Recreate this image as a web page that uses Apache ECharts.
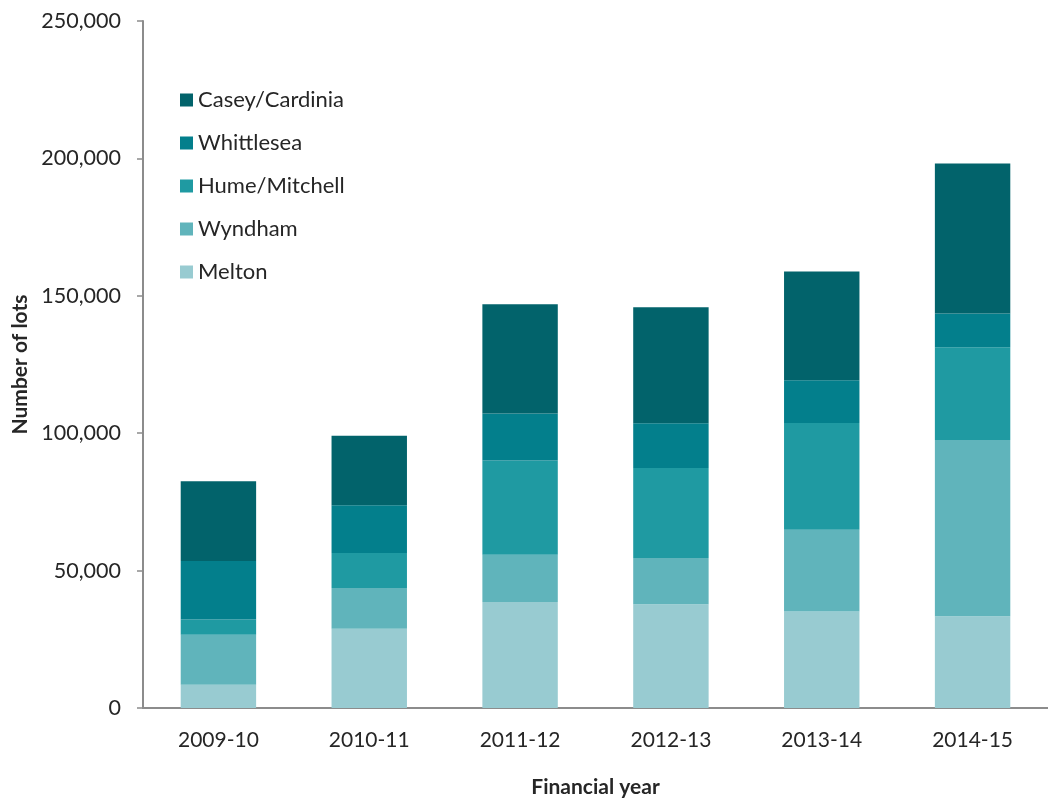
<!DOCTYPE html>
<html>
<head>
<meta charset="utf-8">
<script src="https://cdn.jsdelivr.net/npm/echarts@6/dist/echarts.min.js"></script>
<style>
  html, body { margin: 0; padding: 0; background: #fff; }
  #chart { width: 1048px; height: 803px; }
</style>
</head>
<body>
<div id="chart"></div>
<script>
// Financial years on the category axis
const years = ['2009-10', '2010-11', '2011-12', '2012-13', '2013-14', '2014-15'];

// Lots per growth area, stacked bottom to top
const melton        = [8500, 28800, 38600, 37800, 35100, 33400];
const wyndham       = [18200, 14900, 17200, 16800, 29800, 64100];
const humeMitchell  = [5500, 12700, 34300, 32700, 38800, 33800];
const whittlesea    = [21300, 17400, 17100, 16300, 15600, 12300];
const caseyCardinia = [29000, 25300, 39700, 42200, 39500, 54500];

// Y-axis range
const yMax = 250000;
const yStep = 50000;

const font = 'Lato, "Liberation Sans", sans-serif';
const textColor = '#262626';
const axisGrey = '#8c8c8c';

const seriesDefs = [
  { name: 'Melton',         data: melton,        color: '#98cbd1' },
  { name: 'Wyndham',        data: wyndham,       color: '#60b4bb' },
  { name: 'Hume/Mitchell',  data: humeMitchell,  color: '#1f9aa2' },
  { name: 'Whittlesea',     data: whittlesea,    color: '#037f8c' },
  { name: 'Casey/Cardinia', data: caseyCardinia, color: '#02636b' }
];

const chart = echarts.init(document.getElementById('chart'), null, { renderer: 'canvas' });

chart.setOption({
  animation: false,
  backgroundColor: '#ffffff',
  textStyle: { fontFamily: font },
  grid: { left: 143, top: 21, width: 907, bottom: 94, containLabel: false },
  legend: {
    orient: 'vertical',
    left: 180,
    top: 89,
    padding: 0,
    itemWidth: 13,
    itemHeight: 13,
    itemGap: 21,
    icon: 'rect',
    data: ['Casey/Cardinia', 'Whittlesea', 'Hume/Mitchell', 'Wyndham', 'Melton'],
    textStyle: { fontFamily: font, fontSize: 22, color: textColor }
  },
  xAxis: {
    type: 'category',
    data: years,
    name: 'Financial year',
    nameLocation: 'middle',
    nameGap: 69,
    nameTextStyle: { fontFamily: font, fontSize: 21, fontWeight: 'bold', color: textColor },
    axisLine: { show: true, lineStyle: { color: axisGrey, width: 2 } },
    axisTick: { show: false },
    axisLabel: { fontFamily: font, fontSize: 21, color: textColor, margin: 22 }
  },
  yAxis: {
    type: 'value',
    min: 0,
    max: yMax,
    interval: yStep,
    name: 'Number of lots',
    nameLocation: 'middle',
    nameRotate: 90,
    nameGap: 111,
    nameTextStyle: { fontFamily: font, fontSize: 21, fontWeight: 'bold', color: textColor },
    axisLine: { show: true, lineStyle: { color: axisGrey, width: 2 } },
    axisTick: { show: true, inside: false, length: 6, lineStyle: { color: axisGrey, width: 1.5 } },
    splitLine: { show: false },
    axisLabel: {
      fontFamily: font, fontSize: 21.5, color: textColor, margin: 22,
      formatter: v => v.toLocaleString('en-US')
    }
  },
  series: seriesDefs.map(s => ({
    name: s.name,
    type: 'bar',
    stack: 'lots',
    barWidth: '50%',
    data: s.data,
    itemStyle: { color: s.color }
  }))
});
</script>
</body>
</html>
